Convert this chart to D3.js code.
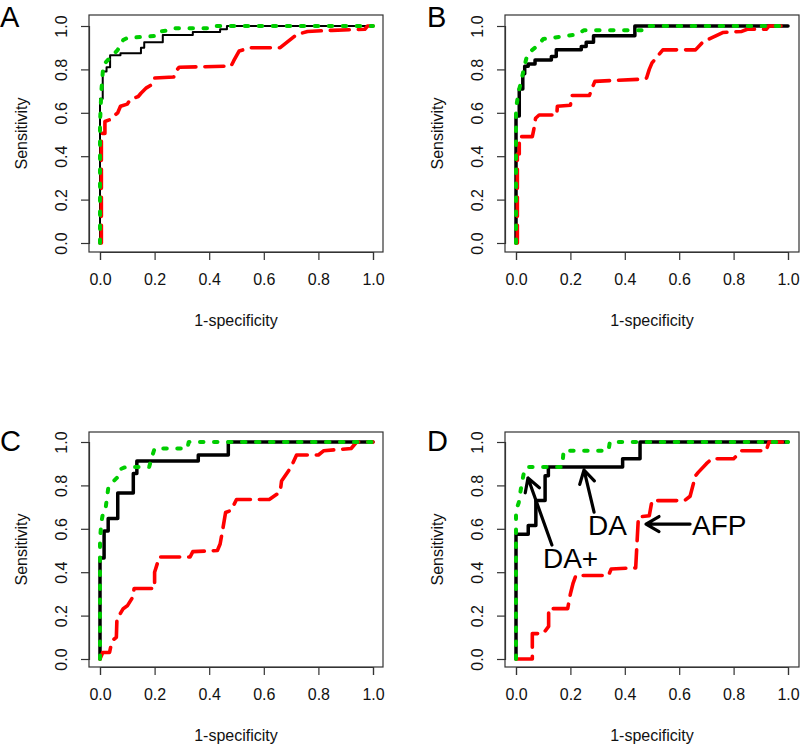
<!DOCTYPE html>
<html><head><meta charset="utf-8">
<script src="https://cdn.jsdelivr.net/npm/d3@7"></script>
<style>body{margin:0;background:#fff} svg{display:block}</style>
</head><body>
<script>
// ---------- data ----------
const tickValues = [0, 0.2, 0.4, 0.6, 0.8, 1.0];
const tickLabels = ["0.0", "0.2", "0.4", "0.6", "0.8", "1.0"];
const panelLabels = ["A", "B", "C", "D"];
const xAxisTitle = "1-specificity";
const yAxisTitle = "Sensitivity";
const seriesNames = ["AFP", "DA", "DA+"];

// ROC vertices [1-specificity, sensitivity]
const A_AFP = [[0,0],[0.005,0],[0.005,0.505],[0.018,0.505],[0.018,0.56],[0.04,0.57],[0.05,0.585],[0.065,0.6],[0.075,0.63],[0.1,0.64],[0.11,0.66],[0.14,0.675],[0.15,0.69],[0.17,0.715],[0.19,0.73],[0.2,0.76],[0.27,0.765],[0.28,0.795],[0.29,0.81],[0.48,0.815],[0.49,0.84],[0.51,0.885],[0.55,0.9],[0.66,0.9],[0.69,0.93],[0.72,0.96],[0.76,0.975],[0.85,0.98],[0.97,0.985],[0.98,1],[1,1]];
const A_DA = [[0,0],[0,0.665],[0.01,0.665],[0.01,0.79],[0.024,0.79],[0.024,0.81],[0.037,0.81],[0.037,0.865],[0.075,0.865],[0.075,0.875],[0.15,0.875],[0.15,0.9],[0.162,0.9],[0.162,0.925],[0.23,0.925],[0.23,0.958],[0.34,0.958],[0.34,0.972],[0.44,0.972],[0.44,0.985],[0.465,0.985],[0.465,1],[1,1]];
const A_DAplus = [[0,0],[0,0.55],[0.005,0.7],[0.012,0.82],[0.03,0.845],[0.05,0.87],[0.065,0.89],[0.075,0.915],[0.085,0.935],[0.1,0.945],[0.16,0.95],[0.21,0.955],[0.22,0.975],[0.25,0.98],[0.27,0.99],[0.41,0.99],[0.42,1],[1,1]];

const B_AFP = [[0,0],[0.005,0],[0.005,0.41],[0.012,0.41],[0.012,0.49],[0.06,0.49],[0.065,0.52],[0.072,0.575],[0.085,0.59],[0.15,0.59],[0.152,0.63],[0.2,0.635],[0.205,0.68],[0.27,0.68],[0.28,0.715],[0.29,0.745],[0.46,0.755],[0.48,0.76],[0.49,0.8],[0.5,0.83],[0.52,0.86],[0.54,0.89],[0.66,0.89],[0.69,0.93],[0.71,0.94],[0.76,0.97],[0.83,0.975],[0.85,0.985],[0.92,0.985],[0.93,1],[1,1]];
const B_DA = [[0,0],[0,0.585],[0.012,0.585],[0.012,0.71],[0.025,0.71],[0.025,0.78],[0.032,0.78],[0.032,0.815],[0.045,0.815],[0.045,0.825],[0.07,0.825],[0.07,0.843],[0.13,0.843],[0.13,0.86],[0.148,0.86],[0.148,0.89],[0.24,0.89],[0.24,0.905],[0.258,0.905],[0.258,0.925],[0.285,0.925],[0.285,0.955],[0.437,0.955],[0.437,1],[1,1]];
const B_DAplus = [[0,0],[0,0.62],[0.01,0.7],[0.02,0.75],[0.03,0.81],[0.04,0.86],[0.055,0.885],[0.08,0.91],[0.1,0.94],[0.16,0.95],[0.22,0.96],[0.25,0.98],[0.48,0.98],[0.49,1],[1,1]];

const C_AFP = [[0,0],[0.01,0.03],[0.035,0.03],[0.04,0.06],[0.05,0.09],[0.06,0.1],[0.062,0.185],[0.07,0.2],[0.085,0.232],[0.1,0.245],[0.12,0.285],[0.125,0.325],[0.2,0.325],[0.2,0.4],[0.21,0.44],[0.215,0.47],[0.33,0.47],[0.34,0.495],[0.43,0.5],[0.44,0.53],[0.45,0.6],[0.46,0.675],[0.48,0.685],[0.5,0.735],[0.62,0.735],[0.66,0.77],[0.665,0.82],[0.7,0.885],[0.72,0.94],[0.8,0.94],[0.82,0.96],[0.92,0.97],[0.94,1],[1,1]];
const C_DA = [[0,0],[0,0.465],[0.015,0.465],[0.015,0.59],[0.03,0.59],[0.03,0.647],[0.065,0.647],[0.065,0.765],[0.122,0.765],[0.122,0.855],[0.135,0.855],[0.135,0.912],[0.36,0.912],[0.36,0.94],[0.47,0.94],[0.47,1],[1,1]];
const C_DAplus = [[0,0],[0,0.55],[0.005,0.63],[0.012,0.68],[0.02,0.69],[0.03,0.785],[0.05,0.82],[0.062,0.835],[0.075,0.875],[0.095,0.885],[0.18,0.885],[0.19,0.93],[0.2,0.97],[0.32,0.97],[0.325,1],[1,1]];

const D_AFP = [[0,0],[0.06,0],[0.06,0.117],[0.1,0.117],[0.12,0.15],[0.12,0.232],[0.19,0.232],[0.2,0.3],[0.21,0.35],[0.22,0.385],[0.34,0.385],[0.35,0.415],[0.44,0.42],[0.45,0.655],[0.49,0.66],[0.5,0.73],[0.62,0.73],[0.64,0.75],[0.66,0.845],[0.67,0.86],[0.7,0.9],[0.72,0.923],[0.8,0.923],[0.83,0.96],[0.92,0.96],[0.93,1],[1,1]];
const D_DA = [[0,0],[0,0.575],[0.045,0.575],[0.045,0.615],[0.073,0.615],[0.073,0.73],[0.107,0.73],[0.107,0.845],[0.119,0.845],[0.119,0.885],[0.392,0.885],[0.392,0.923],[0.456,0.923],[0.456,1],[1,1]];
const D_DAplus = [[0,0],[0,0.685],[0.01,0.72],[0.02,0.8],[0.03,0.865],[0.04,0.885],[0.17,0.885],[0.175,0.96],[0.34,0.96],[0.345,1],[1,1]];

// ---------- layout ----------
const W = 800, H = 746;
const FONT = "'Liberation Sans', Arial, Helvetica, sans-serif";
const svg = d3.select("body").append("svg").attr("width", W).attr("height", H)
  .style("font-family", FONT);

const panels = [
  {label: panelLabels[0], box: [89, 15, 383, 252], xr: [100, 373], yr: [243, 26], data: [A_AFP, A_DA, A_DAplus], daW: 2, lx: 0, ly: 27},
  {label: panelLabels[1], box: [505, 15, 799, 252], xr: [516, 788], yr: [243, 26], data: [B_AFP, B_DA, B_DAplus], daW: 3.5, lx: 427, ly: 27},
  {label: panelLabels[2], box: [89, 432, 383, 667], xr: [100, 373], yr: [659, 442], data: [C_AFP, C_DA, C_DAplus], daW: 3.5, lx: 0, ly: 451},
  {label: panelLabels[3], box: [505, 432, 799, 667], xr: [516, 788], yr: [659, 442], data: [D_AFP, D_DA, D_DAplus], daW: 3.5, lx: 427, ly: 451}
];

const styles = {
  AFP: {color: "#ff0000", width: 3.6, dash: "19,9"},
  DA: {color: "#000000", width: 3.5, dash: null},
  "DA+": {color: "#00cd00", width: 4, dash: "3.5,10.5"}
};
const drawOrder = [1, 0, 2]; // DA, AFP, DA+

panels.forEach((p, pi) => {
  const g = svg.append("g");
  const x = d3.scaleLinear().domain([0, 1]).range(p.xr);
  const y = d3.scaleLinear().domain([0, 1]).range(p.yr);
  const [bx0, by0, bx1, by1] = p.box;

  // curves
  const line = d3.line().x(d => x(d[0])).y(d => y(d[1]));
  drawOrder.forEach(si => {
    const name = seriesNames[si];
    const st = styles[name];
    g.append("path").datum(p.data[si])
      .attr("d", line)
      .attr("fill", "none")
      .attr("stroke", st.color)
      .attr("stroke-width", name === "DA" ? p.daW : st.width)
      .attr("stroke-dasharray", st.dash)
      .attr("stroke-linecap", "round")
      .attr("stroke-linejoin", "round");
  });

  // box
  g.append("rect").attr("x", bx0).attr("y", by0)
    .attr("width", bx1 - bx0).attr("height", by1 - by0)
    .attr("fill", "none").attr("stroke", "#333").attr("stroke-width", 1.2);

  // x axis
  const xAxis = d3.axisBottom(x).tickValues(tickValues)
    .tickFormat((d, i) => tickLabels[i]).tickSize(8).tickPadding(14);
  const xg = g.append("g").attr("transform", `translate(0,${by1})`).call(xAxis);
  xg.select(".domain").attr("stroke", "#333").attr("stroke-width", 1.2);
  xg.selectAll(".tick line").attr("stroke", "#333").attr("stroke-width", 1.2);
  xg.selectAll(".tick text").attr("font-size", 16).attr("font-family", FONT).attr("fill", "#111");

  // y axis (rotated labels)
  const yAxis = d3.axisLeft(y).tickValues(tickValues)
    .tickFormat((d, i) => tickLabels[i]).tickSize(8).tickPadding(0);
  const yg = g.append("g").attr("transform", `translate(${bx0},0)`).call(yAxis);
  yg.select(".domain").attr("stroke", "#333").attr("stroke-width", 1.2);
  yg.selectAll(".tick line").attr("stroke", "#333").attr("stroke-width", 1.2);
  yg.selectAll(".tick text")
    .attr("font-size", 16).attr("font-family", FONT).attr("fill", "#111")
    .attr("x", null).attr("dy", null)
    .attr("text-anchor", "middle")
    .attr("transform", "translate(-22,0) rotate(-90)");

  // titles
  g.append("text").attr("x", (bx0 + bx1) / 2).attr("y", by1 + 74)
    .attr("text-anchor", "middle").attr("font-size", 16).attr("fill", "#111")
    .text(xAxisTitle);
  g.append("text")
    .attr("transform", `translate(${bx0 - 62.5},${(by0 + by1) / 2}) rotate(-90)`)
    .attr("text-anchor", "middle").attr("font-size", 16).attr("fill", "#111")
    .text(yAxisTitle);

  // panel letter
  g.append("text").attr("x", p.lx).attr("y", p.ly)
    .attr("font-size", 29).attr("fill", "#000").text(p.label);

  // annotations on panel D
  if (pi === 3) {
    const annos = [
      {text: seriesNames[1], tx: 0.265, ty: 0.571, from: [0.287, 0.677], to: [0.25, 0.871]},
      {text: seriesNames[2], tx: 0.099, ty: 0.42, from: [0.132, 0.525], to: [0.044, 0.834]},
      {text: seriesNames[0], tx: 0.647, ty: 0.571, from: [0.64, 0.622], to: [0.478, 0.622]}
    ];
    annos.forEach(a => {
      const x0 = x(a.from[0]), y0 = y(a.from[1]);
      const x1 = x(a.to[0]), y1 = y(a.to[1]);
      const ang = Math.atan2(y0 - y1, x0 - x1);
      const L = 15, th = Math.PI / 6;
      const b1 = [x1 + L * Math.cos(ang + th), y1 + L * Math.sin(ang + th)];
      const b2 = [x1 + L * Math.cos(ang - th), y1 + L * Math.sin(ang - th)];
      g.append("path")
        .attr("d", `M${x0},${y0}L${x1},${y1}M${b1[0]},${b1[1]}L${x1},${y1}L${b2[0]},${b2[1]}`)
        .attr("fill", "none").attr("stroke", "#000").attr("stroke-width", 3.2)
        .attr("stroke-linecap", "round").attr("stroke-linejoin", "round");
      g.append("text").attr("x", x(a.tx)).attr("y", y(a.ty))
        .attr("font-size", 28).attr("fill", "#000").text(a.text);
    });
  }
});
</script>
</body></html>
